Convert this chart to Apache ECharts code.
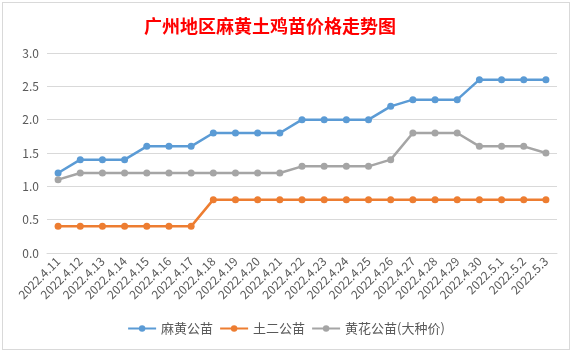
<!DOCTYPE html>
<html>
<head>
<meta charset="utf-8">
<script src="https://cdn.jsdelivr.net/npm/echarts@6/dist/echarts.min.js"></script>
<style>
    html, body { margin: 0; padding: 0; background: #fff; }
    #chart {
        position: absolute; left: 2px; top: 2px;
        width: 566px; height: 346px;
        border: 1px solid #d9d9d9;
    }
</style>
</head>
<body>
<div id="chart"></div>
<script>
// 日期
const dates = [
    '2022.4.11', '2022.4.12', '2022.4.13', '2022.4.14', '2022.4.15', '2022.4.16',
    '2022.4.17', '2022.4.18', '2022.4.19', '2022.4.20', '2022.4.21', '2022.4.22',
    '2022.4.23', '2022.4.24', '2022.4.25', '2022.4.26', '2022.4.27', '2022.4.28',
    '2022.4.29', '2022.4.30', '2022.5.1', '2022.5.2', '2022.5.3'
];

// 价格
const mahuang = [1.2, 1.4, 1.4, 1.4, 1.6, 1.6, 1.6, 1.8, 1.8, 1.8, 1.8, 2.0,
    2.0, 2.0, 2.0, 2.2, 2.3, 2.3, 2.3, 2.6, 2.6, 2.6, 2.6];
const tuer = [0.4, 0.4, 0.4, 0.4, 0.4, 0.4, 0.4, 0.8, 0.8, 0.8, 0.8, 0.8,
    0.8, 0.8, 0.8, 0.8, 0.8, 0.8, 0.8, 0.8, 0.8, 0.8, 0.8];
const huanghua = [1.1, 1.2, 1.2, 1.2, 1.2, 1.2, 1.2, 1.2, 1.2, 1.2, 1.2, 1.3,
    1.3, 1.3, 1.3, 1.4, 1.8, 1.8, 1.8, 1.6, 1.6, 1.6, 1.5];

const seriesNames = ['麻黄公苗', '土二公苗', '黄花公苗(大种价)'];
const colors = ['#5b9bd5', '#ed7d31', '#a5a5a5'];

const font = '"Noto Sans CJK SC", "Noto Sans", sans-serif';
const chart = echarts.init(document.getElementById('chart'));

const makeLine = (name, data, color) => ({
    name,
    type: 'line',
    data,
    symbol: 'circle',
    symbolSize: 7,
    lineStyle: { color, width: 2.5 },
    itemStyle: { color },
});

chart.setOption({
    animation: false,
    color: colors,
    title: {
        text: '广州地区麻黄土鸡苗价格走势图',
        left: 136,
        top: 9,
        textStyle: { color: '#ff0000', fontSize: 18, fontWeight: 'bold', fontFamily: font },
    },
    legend: {
        bottom: 9,
        left: 'center',
        itemWidth: 28,
        itemHeight: 8,
        itemGap: 6,
        textStyle: { color: '#595959', fontSize: 13, fontFamily: font },
        data: seriesNames,
    },
    grid: { left: 44, right: 12, top: 50, bottom: 96 },
    xAxis: {
        type: 'category',
        data: dates,
        boundaryGap: true,
        axisLine: { lineStyle: { color: '#d9d9d9' } },
        axisTick: { show: false },
        axisLabel: {
            color: '#595959', fontSize: 12, fontFamily: font,
            rotate: 45, interval: 0, margin: 6,
        },
    },
    yAxis: {
        type: 'value',
        min: 0,
        max: 3,
        interval: 0.5,
        axisLine: { show: false },
        axisTick: { show: false },
        axisLabel: {
            color: '#595959', fontSize: 12, fontFamily: font, margin: 8,
            formatter: v => v.toFixed(1),
        },
        splitLine: { lineStyle: { color: '#d9d9d9' } },
    },
    series: [
        makeLine(seriesNames[0], mahuang, colors[0]),
        makeLine(seriesNames[1], tuer, colors[1]),
        makeLine(seriesNames[2], huanghua, colors[2]),
    ],
});
</script>
</body>
</html>
